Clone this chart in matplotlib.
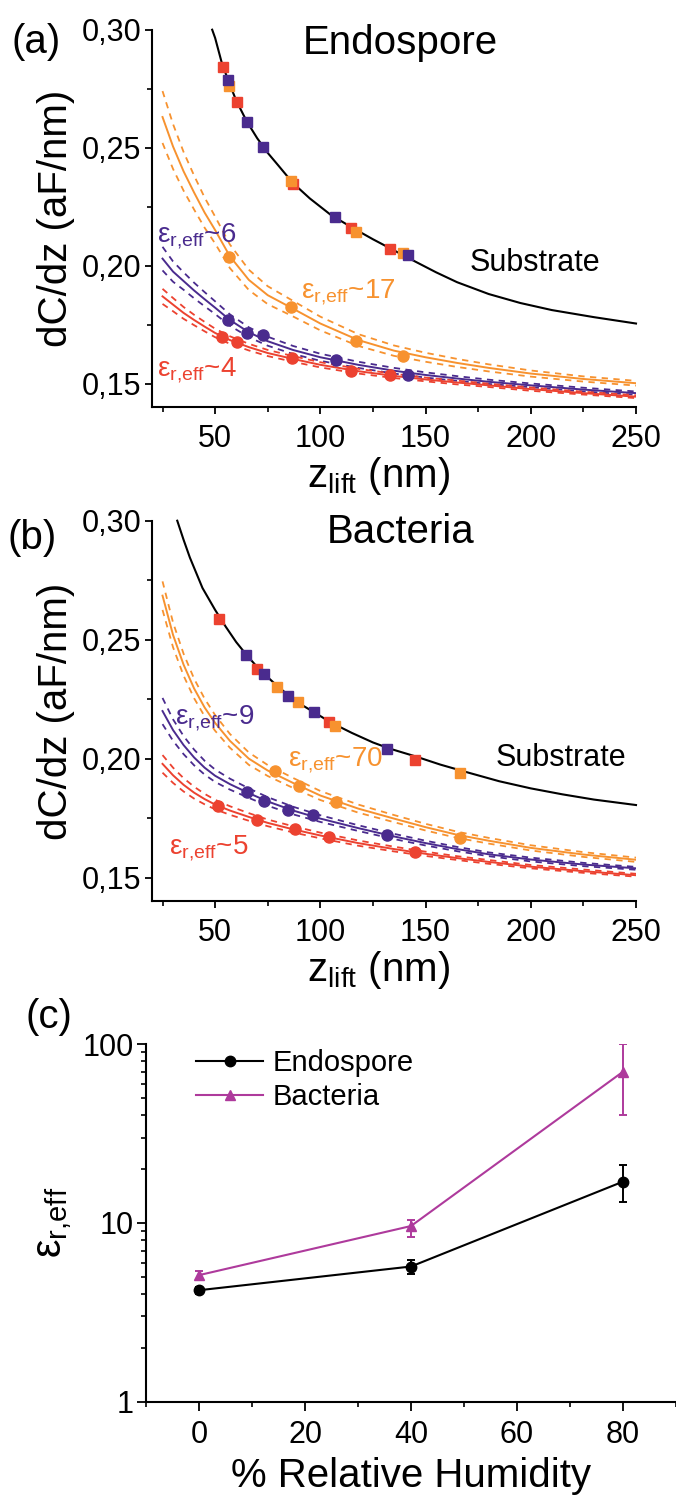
import numpy as np
import matplotlib
matplotlib.use('Agg')
import matplotlib.pyplot as plt
from matplotlib.ticker import FixedLocator, FuncFormatter, NullFormatter
from matplotlib.lines import Line2D

plt.rcParams['font.family'] = ['Liberation Sans', 'DejaVu Sans']
plt.rcParams['mathtext.fontset'] = 'custom'
plt.rcParams['mathtext.rm'] = 'Liberation Sans'
plt.rcParams['mathtext.it'] = 'Liberation Sans:italic'
plt.rcParams['mathtext.bf'] = 'Liberation Sans:bold'

W, H = 676, 1495
DPI = 100

RED = '#EC4230'
ORANGE = '#F7922F'
PURPLE = '#4A2B8E'
MAG = '#AE3A9C'

# ---------------- panel (a): Endospore ----------------
a_sub_z = [48.6, 50, 53, 56, 60, 65, 70, 75, 80, 87, 95, 105, 115, 125, 135, 145,
           155, 165, 180, 195, 210, 230, 250]
a_sub_v = [0.300, 0.2965, 0.2865, 0.2790, 0.2700, 0.2612, 0.2540, 0.2478, 0.2425,
           0.2350, 0.2285, 0.2215, 0.2162, 0.2112, 0.2065, 0.2018, 0.1972, 0.1930,
           0.1880, 0.1842, 0.1812, 0.1782, 0.1755]

fit_z = [25, 30, 35, 40, 45, 50, 57, 66, 75, 87, 100, 118, 135, 150, 165, 180, 200, 225, 250]

a_orange_v = [0.2630, 0.2505, 0.2400, 0.2310, 0.2225, 0.2151, 0.2040, 0.1940, 0.1875,
              0.1818, 0.1755, 0.1685, 0.1640, 0.1612, 0.1588, 0.1567, 0.1543, 0.1520, 0.1502]
a_orange_band = [0.011, 0.0095, 0.0082, 0.0072, 0.0064, 0.0057, 0.0050, 0.0043, 0.0038,
                 0.0033, 0.0029, 0.0025, 0.0022, 0.0019, 0.0017, 0.0015, 0.0013, 0.0011, 0.0010]
a_purple_v = [0.2030, 0.1975, 0.1935, 0.1895, 0.1858, 0.1822, 0.1770, 0.1718, 0.1680,
              0.1643, 0.1612, 0.1580, 0.1555, 0.1537, 0.1522, 0.1508, 0.1493, 0.1475, 0.1460]
a_purple_band = [0.0050, 0.0043, 0.0037, 0.0033, 0.0030, 0.0027, 0.0024, 0.0021, 0.0019,
                 0.0017, 0.0015, 0.0013, 0.0012, 0.0011, 0.0010, 0.0009, 0.0008, 0.0008, 0.0007]
a_red_v = [0.1870, 0.1835, 0.1800, 0.1770, 0.1742, 0.1715, 0.1685, 0.1655, 0.1630,
           0.1605, 0.1580, 0.1553, 0.1533, 0.1518, 0.1505, 0.1493, 0.1477, 0.1460, 0.1445]
a_red_band = [0.0032, 0.0028, 0.0025, 0.0022, 0.0020, 0.0018, 0.0016, 0.0014, 0.0013,
              0.0012, 0.0011, 0.0010, 0.0009, 0.0008, 0.0008, 0.0007, 0.0007, 0.0006, 0.0006]

a_sq_red_z = [53.6, 60.5, 87, 114.8, 133]
a_sq_red_v = [0.2843, 0.2692, 0.2345, 0.2161, 0.2071]
a_sq_orange_z = [56.5, 86.2, 117.1, 139.3]
a_sq_orange_v = [0.2761, 0.2360, 0.2144, 0.2053]
a_sq_purple_z = [56, 65, 72.7, 107.1, 141.7]
a_sq_purple_v = [0.2787, 0.2610, 0.2502, 0.2205, 0.2045]

a_ci_orange_z = [56.5, 86.2, 117.1, 139.3]
a_ci_orange_v = [0.2038, 0.1823, 0.1682, 0.1617]
a_ci_purple_z = [56, 65.1, 72.7, 107.5, 141.7]
a_ci_purple_v = [0.1770, 0.1716, 0.1706, 0.1600, 0.1537]
a_ci_red_z = [53.3, 60.5, 86.7, 114.6, 133.3]
a_ci_red_v = [0.1697, 0.1675, 0.1608, 0.1555, 0.1537]

# ---------------- panel (b): Bacteria ----------------
b_sub_z = [32, 35, 38, 44, 50, 55, 60, 65, 70, 75, 80, 85, 90, 97, 105, 115, 125, 133,
           145, 157, 170, 185, 200, 215, 230, 250]
b_sub_v = [0.300, 0.2920, 0.2845, 0.2717, 0.2625, 0.2555, 0.2490, 0.2435, 0.2385, 0.2342,
           0.2302, 0.2265, 0.2232, 0.2195, 0.2152, 0.2108, 0.2068, 0.2042, 0.2010, 0.1975,
           0.1942, 0.1905, 0.1875, 0.1850, 0.1828, 0.1805]

b_orange_v = [0.2685, 0.2520, 0.2395, 0.2295, 0.2215, 0.2150, 0.2075, 0.2000, 0.1950,
              0.1898, 0.1845, 0.1790, 0.1748, 0.1712, 0.1680, 0.1655, 0.1625, 0.1597, 0.1575]
b_orange_band = [0.0060, 0.0052, 0.0046, 0.0041, 0.0037, 0.0033, 0.0029, 0.0026, 0.0023,
                 0.0021, 0.0019, 0.0017, 0.0015, 0.0014, 0.0013, 0.0012, 0.0011, 0.0010, 0.0009]
b_purple_v = [0.2200, 0.2120, 0.2057, 0.2005, 0.1962, 0.1928, 0.1893, 0.1855, 0.1820,
              0.1782, 0.1748, 0.1708, 0.1673, 0.1645, 0.1620, 0.1598, 0.1576, 0.1555, 0.1539]
b_purple_band = [0.0055, 0.0045, 0.0038, 0.0033, 0.0029, 0.0026, 0.0023, 0.0020, 0.0018,
                 0.0016, 0.0014, 0.0012, 0.0011, 0.0010, 0.0009, 0.0008, 0.0008, 0.0007, 0.0006]
b_red_v = [0.1978, 0.1930, 0.1890, 0.1857, 0.1830, 0.1807, 0.1782, 0.1755, 0.1730,
           0.1703, 0.1677, 0.1645, 0.1620, 0.1600, 0.1582, 0.1566, 0.1546, 0.1527, 0.1510]
b_red_band = [0.0037, 0.0032, 0.0028, 0.0025, 0.0022, 0.0020, 0.0018, 0.0016, 0.0014,
              0.0013, 0.0012, 0.0011, 0.0010, 0.0009, 0.0008, 0.0008, 0.0007, 0.0007, 0.0006]

b_sq_red_z = [52, 70.1, 104, 144.8]
b_sq_red_v = [0.2588, 0.2377, 0.2156, 0.1995]
b_sq_orange_z = [79.4, 89.2, 107, 166.3]
b_sq_orange_v = [0.2303, 0.2240, 0.2137, 0.1938]
b_sq_purple_z = [64.6, 73, 84.6, 96.8, 131.8]
b_sq_purple_v = [0.2436, 0.2355, 0.2264, 0.2198, 0.2041]

b_ci_orange_z = [78.6, 89.7, 107.6, 166.3]
b_ci_orange_v = [0.1950, 0.1886, 0.1819, 0.1665]
b_ci_purple_z = [65.1, 73.3, 84.6, 96.3, 131.8]
b_ci_purple_v = [0.1861, 0.1823, 0.1784, 0.1763, 0.1679]
b_ci_red_z = [51.6, 69.8, 88.1, 104.3, 144.8]
b_ci_red_v = [0.1802, 0.1742, 0.1703, 0.1669, 0.1606]

# ---------------- panel (c) ----------------
rh = [0, 40, 80]
endo_eps = [4.2, 5.7, 17]
endo_err_lo = [0.2, 0.5, 4]
endo_err_hi = [0.2, 0.5, 4]
bact_eps = [5.1, 9.6, 70]
bact_err_lo = [0.3, 1.3, 30]
bact_err_hi = [0.3, 0.8, 30]

z_major = [50, 100, 150, 200, 250]
z_minor = [25, 75, 125, 175, 225]
v_major = [0.15, 0.20, 0.25, 0.30]
v_minor = [0.175, 0.225, 0.275]
rh_major = [0, 20, 40, 60, 80]
rh_minor = [-10, 10, 30, 50, 70, 90]

fig = plt.figure(figsize=(W / DPI, H / DPI), dpi=DPI)


def rect(l, t, r, b):
    return [l / W, 1 - b / H, (r - l) / W, (b - t) / H]


def ftext(x, y, s, **kw):
    fig.text(x / W, 1 - y / H, s, **kw)


def style_axes(ax, ticklen=5):
    for s in ('top', 'right'):
        ax.spines[s].set_visible(False)
    for s in ('left', 'bottom'):
        ax.spines[s].set_linewidth(1.5)
    ax.tick_params(which='major', direction='out', length=ticklen, width=1.3,
                   labelsize=22, pad=2.5)
    ax.tick_params(which='minor', direction='out', length=3.5, width=1.2)
    ax.tick_params(axis='x', which='major', pad=7)


def zpanel(ax, sub_z, sub_v, curves, squares, circles):
    ax.plot(sub_z, sub_v, color='black', lw=1.5, zorder=3, clip_on=False)
    for v, band, c in curves:
        v = np.asarray(v)
        band = np.asarray(band)
        ax.plot(fit_z, v, color=c, lw=1.4, zorder=2)
        ax.plot(fit_z, v + band, color=c, lw=1.3, ls=(0, (3.5, 3)), zorder=2)
        ax.plot(fit_z, v - band, color=c, lw=1.3, ls=(0, (3.5, 3)), zorder=2)
    for z, v, c in circles:
        ax.plot(z, v, ls='none', marker='o', ms=8, mfc=c, mec=c, zorder=4)
    for z, v, c in squares:
        ax.plot(z, v, ls='none', marker='s', ms=7.5, mfc=c, mec=c, zorder=5)
    ax.set_xlim(20, 250)
    ax.set_ylim(0.14, 0.30)
    ax.xaxis.set_major_locator(FixedLocator(z_major))
    ax.xaxis.set_minor_locator(FixedLocator(z_minor))
    ax.yaxis.set_major_locator(FixedLocator(v_major))
    ax.yaxis.set_minor_locator(FixedLocator(v_minor))
    ax.yaxis.set_major_formatter(FuncFormatter(lambda val, p: f'{val:.2f}'.replace('.', ',')))
    style_axes(ax)
    ax.set_ylabel('dC/dz (aF/nm)', fontsize=29, labelpad=5)


eps = r'$\mathrm{\varepsilon_{r{,}eff}}$'

# (a)
axa = fig.add_axes(rect(152, 29.7, 636, 407.3))
zpanel(axa, a_sub_z, a_sub_v,
       [(a_orange_v, a_orange_band, ORANGE), (a_purple_v, a_purple_band, PURPLE),
        (a_red_v, a_red_band, RED)],
       [(a_sq_red_z, a_sq_red_v, RED), (a_sq_orange_z, a_sq_orange_v, ORANGE),
        (a_sq_purple_z, a_sq_purple_v, PURPLE)],
       [(a_ci_orange_z, a_ci_orange_v, ORANGE), (a_ci_purple_z, a_ci_purple_v, PURPLE),
        (a_ci_red_z, a_ci_red_v, RED)])
ftext(12, 42, '(a)', fontsize=29, ha='left', va='center')
ftext(400, 43, 'Endospore', fontsize=29, ha='center', va='center')
ftext(470, 263, 'Substrate', fontsize=22, ha='left', va='center')
ftext(157, 236, eps + '~6', fontsize=20, color=PURPLE, ha='left', va='center')
ftext(301, 292, eps + '~17', fontsize=20, color=ORANGE, ha='left', va='center')
ftext(157, 370, eps + '~4', fontsize=20, color=RED, ha='left', va='center')
ftext(379, 487, r'z$_{\mathrm{lift}}$ (nm)', fontsize=29, ha='center', va='baseline')

# (b)
axb = fig.add_axes(rect(152, 520.7, 636, 901.4))
zpanel(axb, b_sub_z, b_sub_v,
       [(b_orange_v, b_orange_band, ORANGE), (b_purple_v, b_purple_band, PURPLE),
        (b_red_v, b_red_band, RED)],
       [(b_sq_red_z, b_sq_red_v, RED), (b_sq_orange_z, b_sq_orange_v, ORANGE),
        (b_sq_purple_z, b_sq_purple_v, PURPLE)],
       [(b_ci_orange_z, b_ci_orange_v, ORANGE), (b_ci_purple_z, b_ci_purple_v, PURPLE),
        (b_ci_red_z, b_ci_red_v, RED)])
ftext(8, 538, '(b)', fontsize=29, ha='left', va='center')
ftext(401, 532, 'Bacteria', fontsize=29, ha='center', va='center')
ftext(496, 758, 'Substrate', fontsize=22, ha='left', va='center')
ftext(175, 718, eps + '~9', fontsize=20, color=PURPLE, ha='left', va='center')
ftext(288, 760, eps + '~70', fontsize=20, color=ORANGE, ha='left', va='center')
ftext(169, 848, eps + '~5', fontsize=20, color=RED, ha='left', va='center')
ftext(379, 981, r'z$_{\mathrm{lift}}$ (nm)', fontsize=29, ha='center', va='baseline')

# (c)
axc = fig.add_axes(rect(146, 1044, 676, 1401.7))
axc.set_yscale('log')
axc.errorbar(rh, endo_eps, yerr=[endo_err_lo, endo_err_hi], color='black', lw=1.5,
             marker='o', ms=7.5, capsize=3, elinewidth=1.4, capthick=1.4, zorder=3)
axc.errorbar(rh, bact_eps, yerr=[bact_err_lo, bact_err_hi], color=MAG, lw=1.5,
             marker='^', ms=6.5, capsize=3, elinewidth=1.4, capthick=1.4, zorder=2)
axc.set_xlim(-10, 90)
axc.set_ylim(1, 100)
axc.xaxis.set_major_locator(FixedLocator(rh_major))
axc.xaxis.set_minor_locator(FixedLocator(rh_minor))
axc.yaxis.set_major_locator(FixedLocator([1, 10, 100]))
axc.yaxis.set_minor_locator(FixedLocator([2, 3, 4, 5, 6, 7, 8, 9, 20, 30, 40, 50, 60, 70, 80, 90]))
axc.yaxis.set_major_formatter(FuncFormatter(lambda val, p: f'{val:g}'))
axc.yaxis.set_minor_formatter(NullFormatter())
style_axes(axc, ticklen=6.5)
handles = [Line2D([], [], color='black', lw=1.5, marker='o', ms=7.5),
           Line2D([], [], color=MAG, lw=1.5, marker='^', ms=6.5)]
axc.legend(handles, ['Endospore', 'Bacteria'], loc='upper left', bbox_to_anchor=(0.095, 0.985),
           frameon=False, fontsize=21, handlelength=2.3, handletextpad=0.3,
           labelspacing=0.2, borderaxespad=0, borderpad=0)
axc.set_xlabel('% Relative Humidity', fontsize=29, labelpad=5)
axc.set_ylabel(eps, fontsize=30, labelpad=6)
ftext(25, 1017, '(c)', fontsize=29, ha='left', va='center')

fig.savefig('out.png', dpi=DPI)
